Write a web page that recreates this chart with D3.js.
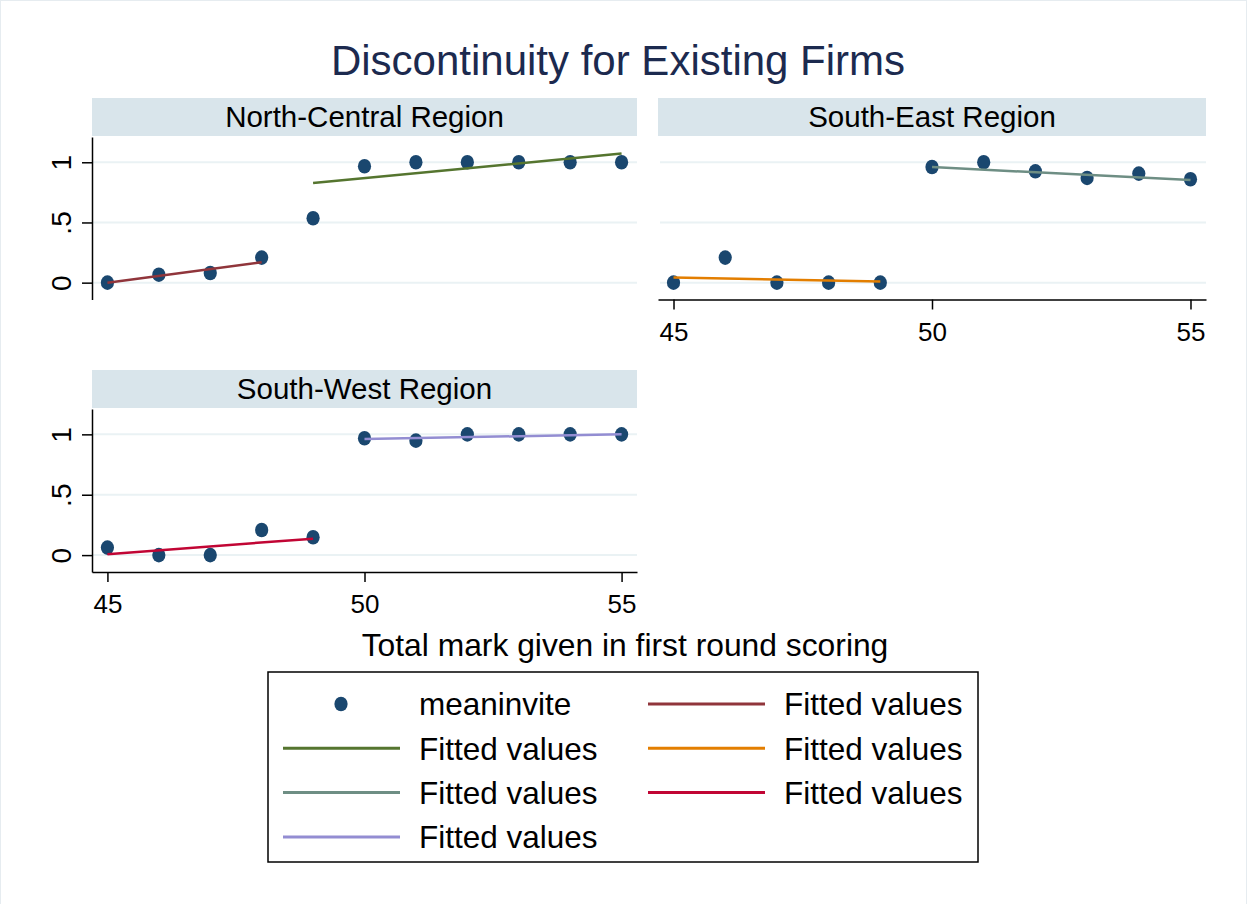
<!DOCTYPE html>
<meta charset='utf-8'>
<style>

body { margin: 0; background: #fff; }
svg text { font-family: 'Liberation Sans', Arial, sans-serif; fill: #000; }

.strip rect { fill: #d9e5eb; }
.grid line { stroke: #eaf2f4; stroke-width: 2px; }
.axis .domain, .axis line { stroke: #000; stroke-width: 1.5px; }
.axis text { font-size: 26px; }
.axis.y text { font-size: 28px; }
.fit { fill: none; stroke-width: 2.5px; }

</style>
<body>

<script src='https://cdnjs.cloudflare.com/ajax/libs/d3/7.8.5/d3.min.js'></script>
<script>
'use strict'


// Data

let marks = [45, 46, 47, 48, 49, 50, 51, 52, 53, 54, 55]
let nc_invite = [0, 0.066, 0.08, 0.208, 0.535, 0.967, 1, 1, 1, 1, 1]
let se_invite = [0, 0.208, 0, 0, 0, 0.961, 1, 0.925, 0.87, 0.906, 0.859]
let sw_invite = [0.062, 0, 0, 0.208, 0.148, 0.968, 0.948, 1, 1, 1, 1]

// fitted lines, [start, end] for x and y
let nc_fit_lo = {x: [45, 48], y: [0, 0.17]}
let nc_fit_hi = {x: [49, 55], y: [0.828, 1.072]}
let se_fit_lo = {x: [45, 49], y: [0.042, 0.01]}
let se_fit_hi = {x: [50, 55], y: [0.96, 0.853]}
let sw_fit_lo = {x: [45, 49], y: [0.008, 0.136]}
let sw_fit_hi = {x: [50, 55], y: [0.962, 1.0]}

let x_ticks = [45, 50, 55]
let y_ticks = [0, 0.5, 1], y_tick_labels = ['0', '.5', '1']

let regions = ['North-Central Region', 'South-East Region', 'South-West Region']
let legend_labels = ['meaninvite', 'Fitted values', 'Fitted values', 'Fitted values',
	'Fitted values', 'Fitted values', 'Fitted values']

// stata s2color
let c_dot = '#1a476f',
	fit_colors = ['#90353b', '#55752f', '#e37e00', '#6e8e84', '#c10534', '#938dd2']


// Layout

let W = 1247, H = 904,
	cols = [[92, 637], [658, 1206]],
	rows = [{strip: 98, bottom: 299.5}, {strip: 370, bottom: 572}],
	strip_h = 38

let panels = [
	{name: regions[0], col: 0, row: 0, vals: nc_invite,
		fits: [[nc_fit_lo, 0], [nc_fit_hi, 1]], yaxis: true, xaxis: false},
	{name: regions[1], col: 1, row: 0, vals: se_invite,
		fits: [[se_fit_lo, 2], [se_fit_hi, 3]], yaxis: false, xaxis: true},
	{name: regions[2], col: 0, row: 1, vals: sw_invite,
		fits: [[sw_fit_lo, 4], [sw_fit_hi, 5]], yaxis: true, xaxis: true} ]

let svg = d3.select('body').append('svg').attr('width', W).attr('height', H)

svg.append('rect')
	.attr('x', 0.5).attr('y', 0.5).attr('width', W - 1).attr('height', H + 10)
	.attr('fill', '#fff').attr('stroke', '#e6ecf0')

svg.append('text')
	.attr('x', 618).attr('y', 75).attr('text-anchor', 'middle')
	.style('font-size', '42px').style('fill', '#1c2a4f')
	.text('Discontinuity for Existing Firms')


// Panels

panels.forEach(p => {
	let [x0, x1] = cols[p.col], r = rows[p.row],
		top = r.strip + strip_h + 1,
		x = d3.scaleLinear().domain([44.7, 55.3]).range([x0, x1]),
		y = d3.scaleLinear().domain([-0.14, 1.21]).range([r.bottom, top])

	let g = svg.append('g')

	g.append('g').attr('class', 'strip')
		.call(s => s.append('rect')
			.attr('x', x0).attr('y', r.strip).attr('width', x1 - x0).attr('height', strip_h))
		.call(s => s.append('text')
			.attr('x', (x0 + x1) / 2).attr('y', r.strip + strip_h / 2 + 10)
			.attr('text-anchor', 'middle').style('font-size', '29.5px').text(p.name))

	g.append('g').attr('class', 'grid')
		.selectAll('line').data(y_ticks).enter().append('line')
			.attr('x1', x0 + (p.yaxis ? 1 : 2)).attr('x2', x1)
			.attr('y1', d => y(d)).attr('y2', d => y(d))

	if (p.yaxis)
		g.append('g').attr('class', 'axis y').attr('transform', `translate(${x0},0)`)
			.call(d3.axisLeft(y).tickValues(y_ticks).tickSize(10).tickSizeOuter(0)
				.tickFormat((d, i) => y_tick_labels[i]))
			.call(s => s.selectAll('text')
				.attr('x', null).attr('dy', null).attr('text-anchor', 'middle')
				.attr('transform', 'translate(-21,0) rotate(-90)'))

	if (p.xaxis)
		g.append('g').attr('class', 'axis x').attr('transform', `translate(0,${r.bottom})`)
			.call(d3.axisBottom(x).tickValues(x_ticks).tickSize(10).tickSizeOuter(0))
			.call(s => s.selectAll('text').attr('y', 41).attr('dy', null))

	g.append('g').selectAll('ellipse').data(p.vals).enter().append('ellipse')
		.attr('cx', (d, i) => x(marks[i])).attr('cy', d => y(d))
		.attr('rx', 6.6).attr('ry', 7.3).attr('fill', c_dot)

	p.fits.forEach(([f, ci]) => g.append('path')
		.datum(d3.zip(f.x, f.y))
		.attr('class', 'fit').attr('stroke', fit_colors[ci])
		.attr('d', d3.line().x(d => x(d[0])).y(d => y(d[1]))))
})

svg.append('text')
	.attr('x', 625).attr('y', 656).attr('text-anchor', 'middle')
	.style('font-size', '31.8px').text('Total mark given in first round scoring')


// Legend

let lg = svg.append('g')
lg.append('rect')
	.attr('x', 268).attr('y', 672).attr('width', 710).attr('height', 190)
	.attr('fill', '#fff').attr('stroke', '#000').attr('stroke-width', 1.5)

let key_x = [283, 648], text_x = [419, 784], row_y = d3.range(4).map(i => 704 + i * 44.3)

legend_labels.forEach((label, i) => {
	let c = i % 2, r = Math.floor(i / 2), yy = row_y[r]
	if (i == 0)
		lg.append('ellipse').attr('cx', key_x[c] + 58).attr('cy', yy)
			.attr('rx', 6.6).attr('ry', 7.3).attr('fill', c_dot)
	else
		lg.append('line')
			.attr('x1', key_x[c]).attr('x2', key_x[c] + 117).attr('y1', yy).attr('y2', yy)
			.attr('stroke', fit_colors[i - 1]).attr('stroke-width', 3)
	lg.append('text').attr('x', text_x[c]).attr('y', yy).attr('dy', '0.36em')
		.style('font-size', '31.5px').text(label)
})

</script>
</body>
